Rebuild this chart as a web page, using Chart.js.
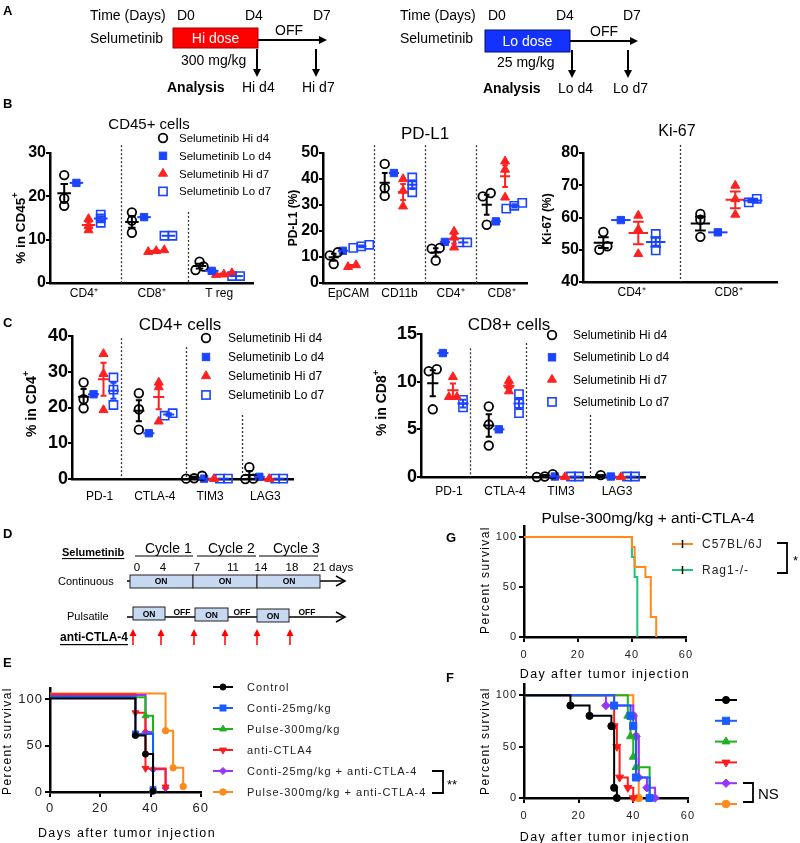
<!DOCTYPE html>
<html><head><meta charset="utf-8">
<script src="https://cdn.jsdelivr.net/npm/chart.js@4.4.1/dist/chart.umd.min.js"></script>
<style>
html,body{margin:0;padding:0;background:#fff}
body{width:800px;height:843px;position:relative;overflow:hidden;font-family:'Liberation Sans',Arial,Helvetica,sans-serif}
canvas{position:absolute}
#ov{position:absolute;left:0;top:0;pointer-events:none}
#ov text{font-family:'Liberation Sans',Arial,Helvetica,sans-serif;dominant-baseline:central;fill:#000}
</style></head>
<body>
<canvas id="cB1" width="262" height="170" style="left:0px;top:140px"></canvas>
<canvas id="cB2" width="265" height="170" style="left:270px;top:140px"></canvas>
<canvas id="cB3" width="262" height="170" style="left:530px;top:140px"></canvas>
<canvas id="cC1" width="300" height="190" style="left:0px;top:322px"></canvas>
<canvas id="cC2" width="290" height="190" style="left:360px;top:320px"></canvas>
<canvas id="cE" width="212" height="150" style="left:0px;top:675px"></canvas>
<canvas id="cG" width="228" height="150" style="left:470px;top:514px"></canvas>
<canvas id="cF" width="230" height="155" style="left:470px;top:672px"></canvas>
<svg id="ov" width="800" height="843" xmlns="http://www.w3.org/2000/svg">
<!-- panel letters -->
<text x="3" y="10" font-size="13" font-weight="bold">A</text>
<text x="3" y="103" font-size="13" font-weight="bold">B</text>
<text x="3" y="322" font-size="13" font-weight="bold">C</text>
<text x="3" y="533" font-size="13" font-weight="bold">D</text>
<text x="3" y="662" font-size="13" font-weight="bold">E</text>
<text x="446" y="537" font-size="13" font-weight="bold">G</text>
<text x="446" y="677" font-size="13" font-weight="bold">F</text>

<!-- A left schematic -->
<text x="90" y="15" font-size="14">Time (Days)</text>
<text x="177" y="15" font-size="14">D0</text>
<text x="245" y="15" font-size="14">D4</text>
<text x="313" y="15" font-size="14">D7</text>
<text x="90" y="38" font-size="14">Selumetinib</text>
<rect x="173" y="28" width="85" height="20" fill="#ff0000" stroke="#a00000" stroke-width="1"/>
<text x="215.5" y="38" font-size="14" text-anchor="middle" style="fill:#fff">Hi dose</text>
<line x1="258" y1="40" x2="321" y2="40" stroke="#000" stroke-width="2"/>
<polygon points="327,40 319,36 319,44" fill="#000"/>
<text x="275" y="30" font-size="14">OFF</text>
<text x="181" y="60" font-size="14">300 mg/kg</text>
<line x1="257" y1="49" x2="257" y2="70" stroke="#000" stroke-width="2"/>
<polygon points="257,77 253,69 261,69" fill="#000"/>
<line x1="316" y1="49" x2="316" y2="70" stroke="#000" stroke-width="2"/>
<polygon points="316,77 312,69 320,69" fill="#000"/>
<text x="167" y="87" font-size="14" font-weight="bold">Analysis</text>
<text x="242" y="87" font-size="14">Hi d4</text>
<text x="302" y="87" font-size="14">Hi d7</text>

<!-- A right schematic -->
<text x="400" y="15" font-size="14">Time (Days)</text>
<text x="488" y="15" font-size="14">D0</text>
<text x="556" y="15" font-size="14">D4</text>
<text x="623" y="15" font-size="14">D7</text>
<text x="400" y="38" font-size="14">Selumetinib</text>
<rect x="485" y="30" width="85" height="22" fill="#1432ff" stroke="#00106b" stroke-width="1"/>
<text x="527.5" y="41" font-size="14" text-anchor="middle" style="fill:#fff">Lo dose</text>
<line x1="570" y1="41" x2="632" y2="41" stroke="#000" stroke-width="2"/>
<polygon points="638,41 630,37 630,45" fill="#000"/>
<text x="590" y="31" font-size="14">OFF</text>
<text x="497" y="62" font-size="14">25 mg/kg</text>
<line x1="572" y1="50" x2="572" y2="71" stroke="#000" stroke-width="2"/>
<polygon points="572,78 568,70 576,70" fill="#000"/>
<line x1="628" y1="50" x2="628" y2="71" stroke="#000" stroke-width="2"/>
<polygon points="628,78 624,70 632,70" fill="#000"/>
<text x="483" y="88" font-size="14" font-weight="bold">Analysis</text>
<text x="558" y="88" font-size="14">Lo d4</text>
<text x="613" y="88" font-size="14">Lo d7</text>

<!-- chart titles -->
<text x="149" y="123" font-size="15" text-anchor="middle">CD45+ cells</text>
<text x="425" y="133" font-size="17" text-anchor="middle">PD-L1</text>
<text x="677" y="130" font-size="16" text-anchor="middle">Ki-67</text>
<text x="180" y="324" font-size="17" text-anchor="middle">CD4+ cells</text>
<text x="509" y="324" font-size="17" text-anchor="middle">CD8+ cells</text>
<text x="648" y="517" font-size="15.5" text-anchor="middle">Pulse-300mg/kg + anti-CTLA-4</text>

<!-- y axis titles -->
<text transform="translate(20,228) rotate(-90)" font-size="13.5" font-weight="bold" text-anchor="middle">% in CD45<tspan dy="-5" font-size="9">+</tspan></text>
<text transform="translate(293,218) rotate(-90)" font-size="12" font-weight="bold" text-anchor="middle">PD-L1 (%)</text>
<text transform="translate(547,219) rotate(-90)" font-size="12" font-weight="bold" text-anchor="middle">Ki-67 (%)</text>
<text transform="translate(31,404) rotate(-90)" font-size="14" font-weight="bold" text-anchor="middle">% in CD4<tspan dy="-5" font-size="9">+</tspan></text>
<text transform="translate(381,403) rotate(-90)" font-size="14" font-weight="bold" text-anchor="middle">% in CD8<tspan dy="-5" font-size="9">+</tspan></text>
<text transform="translate(7,741) rotate(-90)" font-size="12" text-anchor="middle" letter-spacing="1.4">Percent survival</text>
<text transform="translate(485,580) rotate(-90)" font-size="12" text-anchor="middle" letter-spacing="1.4">Percent survival</text>
<text transform="translate(485,741) rotate(-90)" font-size="12" text-anchor="middle" letter-spacing="1.4">Percent survival</text>
<text x="127" y="833" font-size="12.5" text-anchor="middle" letter-spacing="1.4">Days after tumor injection</text>
<text x="605" y="674" font-size="12.5" text-anchor="middle" letter-spacing="1.4">Day after tumor injection</text>
<text x="605" y="837" font-size="12.5" text-anchor="middle" letter-spacing="1.4">Day after tumor injection</text>

<!-- D schematic -->
<text x="62" y="552" font-size="11" font-weight="bold" text-decoration="underline">Selumetinib</text>
<text x="145" y="548" font-size="14">Cycle 1</text>
<text x="208" y="548" font-size="14">Cycle 2</text>
<text x="273" y="548" font-size="14">Cycle 3</text>
<line x1="135" y1="556" x2="193" y2="556" stroke="#000" stroke-width="1.2"/>
<line x1="197" y1="556" x2="256" y2="556" stroke="#000" stroke-width="1.2"/>
<line x1="259" y1="556" x2="318" y2="556" stroke="#000" stroke-width="1.2"/>
<text x="137" y="567" font-size="11.5" text-anchor="middle">0</text>
<text x="163" y="567" font-size="11.5" text-anchor="middle">4</text>
<text x="197" y="567" font-size="11.5" text-anchor="middle">7</text>
<text x="233" y="567" font-size="11.5" text-anchor="middle">11</text>
<text x="261" y="567" font-size="11.5" text-anchor="middle">14</text>
<text x="292" y="567" font-size="11.5" text-anchor="middle">18</text>
<text x="313" y="567" font-size="11.5">21 days</text>
<text x="58" y="581" font-size="11">Continuous</text>
<line x1="127" y1="581" x2="344" y2="581" stroke="#000" stroke-width="1.5"/>
<polyline points="336,576 345,581 336,586" fill="none" stroke="#000" stroke-width="1.5"/>
<rect x="130" y="575" width="63" height="13" fill="#c6d9f1" stroke="#222" stroke-width="1"/>
<rect x="193" y="575" width="64" height="13" fill="#c6d9f1" stroke="#222" stroke-width="1"/>
<rect x="257" y="575" width="63" height="13" fill="#c6d9f1" stroke="#222" stroke-width="1"/>
<text x="161" y="581" font-size="8.5" font-weight="bold" text-anchor="middle">ON</text>
<text x="225" y="581" font-size="8.5" font-weight="bold" text-anchor="middle">ON</text>
<text x="289" y="581" font-size="8.5" font-weight="bold" text-anchor="middle">ON</text>
<text x="67" y="616" font-size="11">Pulsatile</text>
<line x1="127" y1="617" x2="344" y2="617" stroke="#000" stroke-width="1.5"/>
<polyline points="336,612 345,617 336,622" fill="none" stroke="#000" stroke-width="1.5"/>
<rect x="133" y="607" width="32" height="13" fill="#c6d9f1" stroke="#222" stroke-width="1"/>
<rect x="195" y="608" width="33" height="13" fill="#c6d9f1" stroke="#222" stroke-width="1"/>
<rect x="257" y="609" width="32" height="13" fill="#c6d9f1" stroke="#222" stroke-width="1"/>
<text x="149" y="613.5" font-size="8.5" font-weight="bold" text-anchor="middle">ON</text>
<text x="211.5" y="614.5" font-size="8.5" font-weight="bold" text-anchor="middle">ON</text>
<text x="273" y="615.5" font-size="8.5" font-weight="bold" text-anchor="middle">ON</text>
<text x="182" y="612" font-size="8.5" font-weight="bold" text-anchor="middle">OFF</text>
<text x="242" y="612" font-size="8.5" font-weight="bold" text-anchor="middle">OFF</text>
<text x="307" y="612" font-size="8.5" font-weight="bold" text-anchor="middle">OFF</text>
<text x="60" y="637" font-size="12" font-weight="bold" text-decoration="underline">anti-CTLA-4</text>
<g stroke="#ff0000" stroke-width="1.5">
<line x1="133" y1="645" x2="133" y2="634"/><line x1="161" y1="645" x2="161" y2="634"/>
<line x1="194" y1="645" x2="194" y2="634"/><line x1="225" y1="645" x2="225" y2="634"/>
<line x1="257" y1="645" x2="257" y2="634"/><line x1="290" y1="645" x2="290" y2="634"/>
</g>
<g fill="#ff0000">
<polygon points="133,629 129.5,636 136.5,636"/><polygon points="161,629 157.5,636 164.5,636"/>
<polygon points="194,629 190.5,636 197.5,636"/><polygon points="225,629 221.5,636 228.5,636"/>
<polygon points="257,629 253.5,636 260.5,636"/><polygon points="290,629 286.5,636 293.5,636"/>
</g>

<!-- significance brackets -->
<polyline points="432,771 443,771 443,793 432,793" fill="none" stroke="#000" stroke-width="1.8"/>
<text x="447" y="784" font-size="13">**</text>
<polyline points="777,543 787,543 787,573 777,573" fill="none" stroke="#000" stroke-width="1.8"/>
<text x="793" y="560" font-size="13">*</text>
<polyline points="743,783 753,783 753,802 743,802" fill="none" stroke="#000" stroke-width="1.8"/>
<text x="758" y="793" font-size="15">NS</text>
</svg>
<script>
// ===================== DATA =====================
// Panel B — CD45+ cells (% in CD45+)
const cd45Cats = ['CD4\u207A', 'CD8\u207A', 'T reg'];
const cd45HiD4 = [[24.9, 17.8, 19.5], [16.3, 11.6, 14.4], [4.9, 3.0, 3.8]];
const cd45LoD4 = [[23.1], [15.2], [2.8]];
const cd45HiD7 = [[14.8, 13.2, 12.2], [7.6, 7.2, 7.4], [2.3, 1.9, 2.0]];
const cd45LoD7 = [[13.9, 14.9, 15.8], [10.9, 10.9], [1.6, 1.6]];

// Panel B — PD-L1 (%)
const pdl1Cats = ['EpCAM', 'CD11b', 'CD4\u207A', 'CD8\u207A'];
const pdl1HiD4 = [[7.3, 11.8, 10.6], [33.5, 45.8, 36.5], [13.5, 8.6, 13.2], [34.6, 33.3, 22.4]];
const pdl1LoD4 = [[12.4], [42.3], [15.8], [23.7]];
const pdl1HiD7 = [[6.9, 6.2], [40.0, 35.5, 29.5], [19.8, 17.5, 13.7], [46.8, 43.6, 32.9]];
const pdl1LoD7 = [[13.5, 14.1, 14.7], [40.6, 37.8, 34.9], [15.6, 15.6], [28.6, 29.7, 30.8]];

// Panel B — Ki-67 (%)
const ki67Cats = ['CD4\u207A', 'CD8\u207A'];
const ki67HiD4 = [[55.5, 50.0, 51.1], [61.1, 59.3, 54.0]];
const ki67LoD4 = [[59.2], [55.4]];
const ki67HiD7 = [[60.6, 56.3, 48.7], [69.9, 65.7, 60.9]];
const ki67LoD7 = [[54.9, 52.6, 49.8], [64.7, 65.8]];

// Panel C — CD4+ cells (% in CD4+)
const cd4Cats = ['PD-1', 'CTLA-4', 'TIM3', 'LAG3'];
const cd4HiD4 = [[19.8, 27.0, 22.3], [24.0, 19.5, 13.8], [0.9, 0.2, 0.1], [3.3, 0.1, 0.0]];
const cd4LoD4 = [[23.7], [12.8], [0.1], [0.6]];
const cd4HiD7 = [[35.0, 29.4, 19.3], [27.0, 25.7, 16.1], [0.05], [0.05]];
const cd4LoD7 = [[28.4, 25.0, 20.7], [17.7, 18.4], [0.1, 0.1], [0.1, 0.1]];

// Panel C — CD8+ cells (% in CD8+)
const cd8Cats = ['PD-1', 'CTLA-4', 'TIM3', 'LAG3'];
const cd8HiD4 = [[11.3, 11.1, 7.1], [7.4, 5.5, 3.3], [0.3, 0.05, 0.0], [0.2]];
const cd8LoD4 = [[13.0], [5.0], [0.05], [0.05]];
const cd8HiD7 = [[10.5, 8.4, 8.4], [10.1, 9.6, 9.0], [0.0], [0.0]];
const cd8LoD7 = [[7.3, 8.1], [8.7, 7.7, 6.7], [0.05, 0.05], [0.05, 0.05]];

// Panel E — survival (days / percent survival)
const eGroups = ['Control', 'Conti-25mg/kg', 'Pulse-300mg/kg', 'anti-CTLA4',
                 'Conti-25mg/kg + anti-CTLA-4', 'Pulse-300mg/kg + anti-CTLA-4'];
const eDays = [[0, 34, 38, 41], [0, 34, 41], [0, 38, 41], [0, 34, 38, 46], [0, 38, 41, 46], [0, 46, 49, 53]];
const eSurv = [[100, 60, 40, 0], [100, 60, 0], [100, 80, 0], [100, 80, 20, 0], [100, 60, 20, 0], [100, 60, 20, 0]];

// Panel F — survival
const fDays = [[0, 17, 24, 32, 33, 34], [0, 33, 39, 40, 41, 46], [0, 38, 39, 40, 41, 46],
               [0, 33, 34, 35, 38, 40], [0, 30, 40, 41, 42, 45, 48], [0, 40, 41, 42]];
const fSurv = [[100, 90, 80, 70, 10, 0], [100, 90, 80, 70, 20, 0], [100, 80, 60, 40, 30, 0],
               [100, 70, 50, 20, 10, 0], [100, 90, 80, 60, 20, 10, 0], [100, 80, 60, 0]];

// Panel G — survival
const gGroups = ['C57BL/6J', 'Rag1-/-'];
const gDays = [[0, 40, 41, 45, 47, 49], [0, 40, 41, 42]];
const gSurv = [[100, 90, 70, 60, 20, 0], [100, 80, 60, 0]];

// ===================== STYLE =====================
Chart.defaults.font.family = "'Liberation Sans', Arial, Helvetica, sans-serif";
Chart.defaults.color = '#000';

const seriesStyle = [
  {label: 'Selumetinib Hi d4', color: '#000000', shape: 'circle',   r: 4.3, fill: false, bw: 1.8},
  {label: 'Selumetinib Lo d4', color: '#1b44ff', shape: 'rect',     r: 5.2, fill: true,  bw: 1},
  {label: 'Selumetinib Hi d7', color: '#ff2020', shape: 'triangle', r: 5.2, fill: true,  bw: 1},
  {label: 'Selumetinib Lo d7', color: '#1b44ff', shape: 'rect',     r: 5.8, fill: false, bw: 1.6},
];
const seriesOffset = [-0.29, -0.11, 0.07, 0.25];

const kmStyle = [
  {color: '#000000', shape: 'circle',   r: 3.6},
  {color: '#1a5cff', shape: 'rect',     r: 5.0},
  {color: '#20b020', shape: 'triangle', r: 4.6},
  {color: '#ff1c1c', shape: 'triangle', r: 4.6, rot: 180},
  {color: '#9933ff', shape: 'rectRot',  r: 4.2},
  {color: '#ff8a1c', shape: 'circle',   r: 3.8},
];
const kmStyleG = [{color: '#ff8a1c'}, {color: '#1fc47a'}];
const eCurveNudge = [0.8, 2.5, 2, 5.4, 4.5, 6]; // Prism-style vertical offset so overlapping curves stay visible

const chartInfo = {};

function jitterGroup(vals, range, step) {
  const idx = vals.map((v, i) => i).sort((a, b) => vals[a] - vals[b]);
  const offs = new Array(vals.length).fill(0);
  let cluster = [idx[0]];
  const flush = () => cluster.forEach((k, j) => { offs[k] = (j - (cluster.length - 1) / 2) * step; });
  for (let i = 1; i < idx.length; i++) {
    if (vals[idx[i]] - vals[idx[i - 1]] < range * 0.03) cluster.push(idx[i]);
    else { flush(); cluster = [idx[i]]; }
  }
  flush();
  return offs;
}

const sepPlugin = {
  id: 'seps',
  beforeDatasetsDraw(chart) {
    const info = chartInfo[chart.canvas.id];
    if (!info || !info.seps) return;
    const {ctx, chartArea} = chart; const x = chart.scales.x, y = chart.scales.y;
    ctx.save(); ctx.strokeStyle = '#333'; ctx.lineWidth = 1.3; ctx.setLineDash([2, 2]);
    info.seps.forEach(([xv, topv]) => {
      const px = Math.round(x.getPixelForValue(xv)) + 0.5;
      ctx.beginPath(); ctx.moveTo(px, y.getPixelForValue(topv)); ctx.lineTo(px, chartArea.bottom); ctx.stroke();
    });
    ctx.restore();
  }
};

const meanSemPlugin = {
  id: 'meanSem',
  afterDatasetsDraw(chart) {
    const info = chartInfo[chart.canvas.id];
    if (!info || !info.groups) return;
    const ctx = chart.ctx; const x = chart.scales.x, y = chart.scales.y;
    const slot = x.getPixelForValue(1) - x.getPixelForValue(0);
    info.groups.forEach((g, s) => {
      ctx.save(); ctx.strokeStyle = seriesStyle[s].color; ctx.lineWidth = 2;
      g.forEach((vals, c) => {
        const n = vals.length; const m = vals.reduce((a, b) => a + b, 0) / n;
        const sd = n > 1 ? Math.sqrt(vals.reduce((a, b) => a + (b - m) * (b - m), 0) / (n - 1)) : 0;
        const sem = sd / Math.sqrt(n);
        const cx = x.getPixelForValue(c + seriesOffset[s]);
        const ym = y.getPixelForValue(m);
        ctx.beginPath();
        ctx.moveTo(cx - 0.1 * slot, ym); ctx.lineTo(cx + 0.1 * slot, ym);
        if (sem > 0) {
          const yt = y.getPixelForValue(m + sem), yb = y.getPixelForValue(m - sem);
          const cw = 0.055 * slot;
          ctx.moveTo(cx, yt); ctx.lineTo(cx, yb);
          ctx.moveTo(cx - cw, yt); ctx.lineTo(cx + cw, yt);
          ctx.moveTo(cx - cw, yb); ctx.lineTo(cx + cw, yb);
        }
        ctx.stroke();
      });
      ctx.restore();
    });
  }
};

function makeDot(id, cats, groups, yMin, yMax, yStep, lay, seps) {
  const canvas = document.getElementById(id);
  const slotPx = (canvas.width - lay.yW - lay.pr) / cats.length;
  const step = 8 / slotPx;
  const datasets = groups.map((g, s) => {
    const st = seriesStyle[s];
    const pts = [];
    g.forEach((vals, c) => {
      const offs = jitterGroup(vals, yMax - yMin, step);
      vals.forEach((v, i) => pts.push({x: c + seriesOffset[s] + offs[i], y: v}));
    });
    return {label: st.label, data: pts, showLine: false, clip: false,
      pointStyle: st.shape, pointRadius: st.r, pointHoverRadius: st.r,
      pointBorderColor: st.color, pointBackgroundColor: st.fill ? st.color : 'rgba(255,255,255,0)',
      pointBorderWidth: st.bw};
  });
  chartInfo[id] = {groups, seps};
  new Chart(canvas, {
    type: 'scatter',
    data: {datasets},
    options: {
      responsive: false, animation: false, devicePixelRatio: 1, events: [],
      layout: {padding: {top: lay.pt, right: lay.pr, left: 0, bottom: 0}, autoPadding: false},
      plugins: {legend: {display: false}, tooltip: {enabled: false}},
      scales: {
        x: {type: 'linear', min: -0.5, max: cats.length - 0.5,
          afterBuildTicks: (s) => { s.ticks = cats.map((_, i) => ({value: i})); },
          afterFit: (s) => { s.height = lay.xH; },
          ticks: {callback: (v) => cats[v] ?? '', autoSkip: false, maxRotation: 0, minRotation: 0,
                  font: {size: 12}, color: '#000', padding: lay.xPad},
          grid: {display: false, drawTicks: false},
          border: {display: true, color: '#000', width: 2.5}},
        y: {type: 'linear', min: yMin, max: yMax,
          ticks: {stepSize: yStep, font: {size: lay.yFont, weight: 'bold'}, color: '#000', padding: 0},
          grid: {display: true, drawOnChartArea: false, drawTicks: true, tickLength: 4, color: '#000', lineWidth: 2},
          border: {display: true, color: '#000', width: 2.5},
          afterFit: (s) => { s.width = lay.yW; }}
      }
    },
    plugins: [sepPlugin, meanSemPlugin]
  });
}

const spacingPlugin = {
  id: 'spacing',
  beforeDraw(chart) { chart.ctx.letterSpacing = '1px'; }
};

function makeKM(id, names, days, surv, styles, lay, nudge) {
  const datasets = names.map((n, i) => {
    const st = styles[i];
    return {
      label: n,
      data: days[i].map((d, j) => ({x: d, y: surv[i][j] + (nudge ? nudge[i] : 0)})),
      stepped: true, borderColor: st.color, borderWidth: 2, fill: false, clip: false,
      pointStyle: st.shape || 'circle', pointRotation: st.rot || 0,
      pointRadius: (c) => (c.dataIndex === 0 || !st.shape) ? 0 : st.r * lay.mScale,
      pointHoverRadius: 0,
      pointBackgroundColor: st.color, pointBorderColor: st.color, pointBorderWidth: 1
    };
  });
  new Chart(document.getElementById(id), {
    type: 'line',
    data: {datasets},
    options: {
      responsive: false, animation: false, devicePixelRatio: 1, events: [],
      layout: {padding: {top: lay.pt, right: lay.pr, left: 0, bottom: 0}, autoPadding: false},
      plugins: {legend: {display: false}, tooltip: {enabled: false}},
      scales: {
        x: {type: 'linear', min: 0, max: 60,
          ticks: {stepSize: 20, font: {size: lay.tFont}, color: '#222', padding: lay.xPad, maxRotation: 0},
          grid: {display: true, drawOnChartArea: false, drawTicks: true, tickLength: 5, color: '#000', lineWidth: 2},
          border: {display: true, color: '#000', width: 2.5},
          afterFit: (s) => { s.height = lay.xH; }},
        y: {type: 'linear', min: 0, max: lay.yMax,
          afterBuildTicks: (s) => { s.ticks = [0, 50, 100].map(v => ({value: v})); },
          ticks: {font: {size: lay.tFont}, color: '#222', padding: 2},
          grid: {display: true, drawOnChartArea: false, drawTicks: true, tickLength: 5, color: '#000', lineWidth: 2},
          border: {display: true, color: '#000', width: 2.5},
          afterFit: (s) => { s.width = lay.yW; }}
      }
    },
    plugins: [spacingPlugin]
  });
}

// ===================== CHARTS =====================
makeDot('cB1', cd45Cats, [cd45HiD4, cd45LoD4, cd45HiD7, cd45LoD7], 0, 30, 10,
  {yW: 50, pr: 9, pt: 13, xH: 27, xPad: 3, yFont: 16}, [[0.55, 31.8], [1.54, 16.4]]);
makeDot('cB2', pdl1Cats, [pdl1HiD4, pdl1LoD4, pdl1HiD7, pdl1LoD7], 0, 50, 10,
  {yW: 53, pr: 8, pt: 13, xH: 27, xPad: 3, yFont: 16}, [[0.5, 53], [1.5, 53], [2.5, 53]]);
makeDot('cB3', ki67Cats, [ki67HiD4, ki67LoD4, ki67HiD7, ki67LoD7], 40, 80, 10,
  {yW: 53, pr: 15, pt: 13, xH: 28, xPad: 3, yFont: 16}, [[0.5, 82.5]]);
makeDot('cC1', cd4Cats, [cd4HiD4, cd4LoD4, cd4HiD7, cd4LoD7], 0, 40, 10,
  {yW: 72, pr: 7, pt: 14, xH: 33, xPad: 10, yFont: 18}, [[0.39, 39.4], [1.56, 36.9], [2.58, 17.9]]);
makeDot('cC2', cd8Cats, [cd8HiD4, cd8LoD4, cd8HiD7, cd8LoD7], 0, 15, 5,
  {yW: 61, pr: 5, pt: 14, xH: 33, xPad: 7, yFont: 18}, [[0.375, 13.5], [1.375, 14.05], [2.52, 6.5]]);

makeKM('cE', eGroups, eDays, eSurv, kmStyle,
  {yW: 50, pr: 9, pt: 13, xH: 33, xPad: 4, tFont: 13, yMax: 112, mScale: 0.85}, eCurveNudge);
makeKM('cF', eGroups, fDays, fSurv, kmStyle,
  {yW: 54, pr: 9, pt: 12, xH: 29, xPad: 6, tFont: 11, yMax: 111, mScale: 1}, null);
makeKM('cG', gGroups, gDays, gSurv, kmStyleG,
  {yW: 54, pr: 9, pt: 12, xH: 27, xPad: 6, tFont: 11, yMax: 111, mScale: 1}, null);

// ===================== LEGENDS (SVG) =====================
const SVGNS = 'http://www.w3.org/2000/svg';
const ov = document.getElementById('ov');
function el(tag, attrs, text) {
  const e = document.createElementNS(SVGNS, tag);
  for (const k in attrs) e.setAttribute(k, attrs[k]);
  if (text != null) e.textContent = text;
  ov.appendChild(e); return e;
}
function svgMarker(shape, x, y, r, color, filled, bw, rot) {
  const a = {fill: filled ? color : 'none', stroke: color, 'stroke-width': bw};
  if (shape === 'circle') return el('circle', Object.assign({cx: x, cy: y, r: r}, a));
  if (shape === 'rect') { const s = Math.SQRT1_2 * r; return el('rect', Object.assign({x: x - s, y: y - s, width: 2 * s, height: 2 * s}, a)); }
  let pts;
  if (shape === 'triangle') { const sg = rot === 180 ? -1 : 1; pts = [[x, y - sg * r], [x + 0.866 * r, y + sg * 0.5 * r], [x - 0.866 * r, y + sg * 0.5 * r]]; }
  else { pts = [[x, y - r], [x + r, y], [x, y + r], [x - r, y]]; }
  return el('polygon', Object.assign({points: pts.map(p => p.join(',')).join(' ')}, a));
}
function dotLegend(mx, tx, y0, dy, fs) {
  seriesStyle.forEach((st, i) => {
    const y = y0 + i * dy;
    svgMarker(st.shape, mx, y, st.r, st.color, st.fill, st.bw);
    el('text', {x: tx, y: y, 'font-size': fs}, st.label);
  });
}
dotLegend(163, 179, 138, 17.8, 11.5);
dotLegend(206, 228, 338, 19, 12);
dotLegend(552, 573, 335, 22.3, 12);

function kmLegend(names, styles, x1, x2, tx, y0, dy, fs, withText, mScale) {
  styles.forEach((st, i) => {
    const y = y0 + i * dy;
    el('line', {x1: x1, y1: y, x2: x2, y2: y, stroke: st.color, 'stroke-width': 2});
    const mx = (x1 + x2) / 2;
    if (st.shape) svgMarker(st.shape, mx, y, st.r * mScale, st.color, true, 1, st.rot);
    else el('line', {x1: mx, y1: y - 4, x2: mx, y2: y + 4, stroke: '#000', 'stroke-width': 1.5});
    if (withText) el('text', {x: tx, y: y, 'font-size': fs, 'letter-spacing': '1', style: 'fill:#222'}, names[i]);
  });
}
kmLegend(eGroups, kmStyle, 213, 233, 247, 687, 21, 11, true, 0.85);
kmLegend(eGroups, kmStyle, 715, 737, 0, 700, 20.8, 11, false, 1);
kmLegend(gGroups, kmStyleG, 672, 693, 702, 544, 26, 12, true, 1);
</script>
</body></html>
